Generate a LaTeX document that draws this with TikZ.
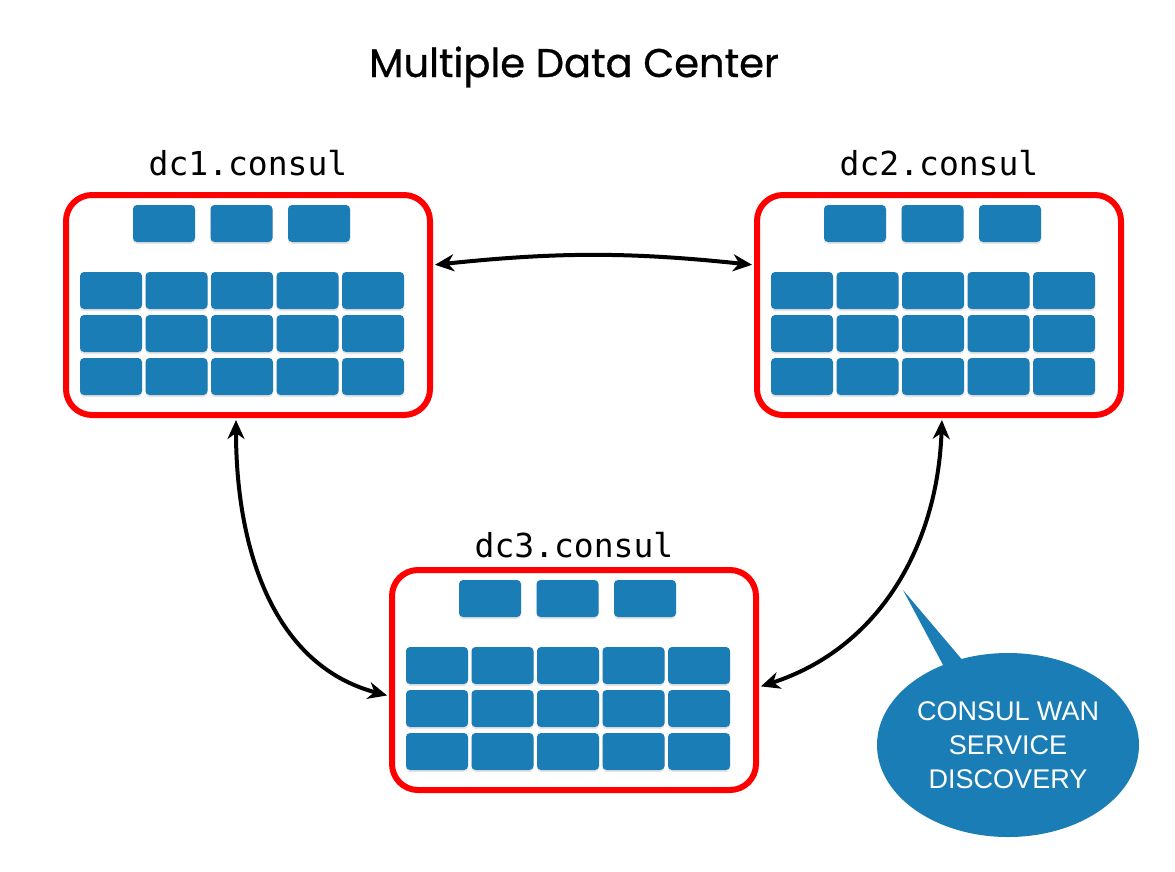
\documentclass[tikz,border=0pt]{standalone}
\usepackage{fontspec}
\usepackage{tikz}
\usetikzlibrary{shapes.geometric,arrows.meta,shadows}

\newfontfamily\titlefont{Poppins}[FakeBold=0.8]
\newfontfamily\dcfont{DejaVu Sans Mono}
\newfontfamily\wanfont{Liberation Sans}
\definecolor{consulblue}{RGB}{27,125,181}

\begin{document}
\begin{tikzpicture}[x=1pt,y=-1pt,
		dcbox/.style={draw=red,line width=6pt,rounded corners=26pt,minimum width=364pt,minimum height=220pt,anchor=north west},
		dclabel/.style={font=\dcfont\fontsize{33}{33}\selectfont,anchor=base,inner sep=0pt},
		server/.style={fill=consulblue,rounded corners=4pt,drop shadow={shadow xshift=0pt,shadow yshift=-2pt,opacity=0.2}},
		link/.style={line width=4pt,{Stealth[length=19pt,width=17pt,inset=6pt]}-{Stealth[length=19pt,width=17pt,inset=6pt]},shorten <=2pt,shorten >=2pt}]
		\useasboundingbox[fill=white] (0,0) rectangle (1175,871);

		\node[anchor=base,font=\titlefont\fontsize{40}{40}\selectfont] (title) at (574,77) {Multiple Data Center};

		\node[dcbox] (dc1) at (63,192) {};
		\node[dcbox] (dc2) at (754,192) {};
		\node[dcbox] (dc3) at (389,567) {};

		\node[dclabel] (dc1label) at ([yshift=17pt]dc1.north) {dc1.consul};
		\node[dclabel] (dc2label) at ([yshift=17pt]dc2.north) {dc2.consul};
		\node[dclabel] (dc3label) at ([yshift=10pt]dc3.north) {dc3.consul};

		\foreach \dc in {dc1,dc2,dc3} {
			\begin{scope}[shift={(\dc.north west)}]
				\foreach \i in {0,1,2} {
					\fill[server] ({70+77.5*\i},13) rectangle ++(62,37);
				}
				\foreach \i in {0,...,4} {
					\foreach \j in {0,1,2} {
						\fill[server] ({17+65.5*\i},{80+43*\j}) rectangle ++(62,37);
					}
				}
			\end{scope}
		}

		\draw[link] ([yshift=40pt]dc1.east) to[bend left=6] ([yshift=40pt]dc2.west);
		\draw[link] ([xshift=-12pt]dc1.south) to[out=-90,in=165] ([yshift=-16pt]dc3.west);
		\draw[link] ([xshift=3pt]dc2.south) to[out=-92,in=18] ([yshift=-7pt]dc3.east);

		% callout
		\coordinate (tip) at (903,590);
		\fill[consulblue] (tip) -- (950,678) -- (970,669) -- cycle;
		\node[ellipse,fill=consulblue,minimum width=262pt,minimum height=184pt,inner sep=0pt] (wan) at (1008,745) {};
		\node[text=white,align=center,font=\wanfont\fontsize{27}{34}\selectfont] (wantext) at (wan.center) {CONSUL WAN\\SERVICE\\DISCOVERY};
	\end{tikzpicture}
\end{document}
